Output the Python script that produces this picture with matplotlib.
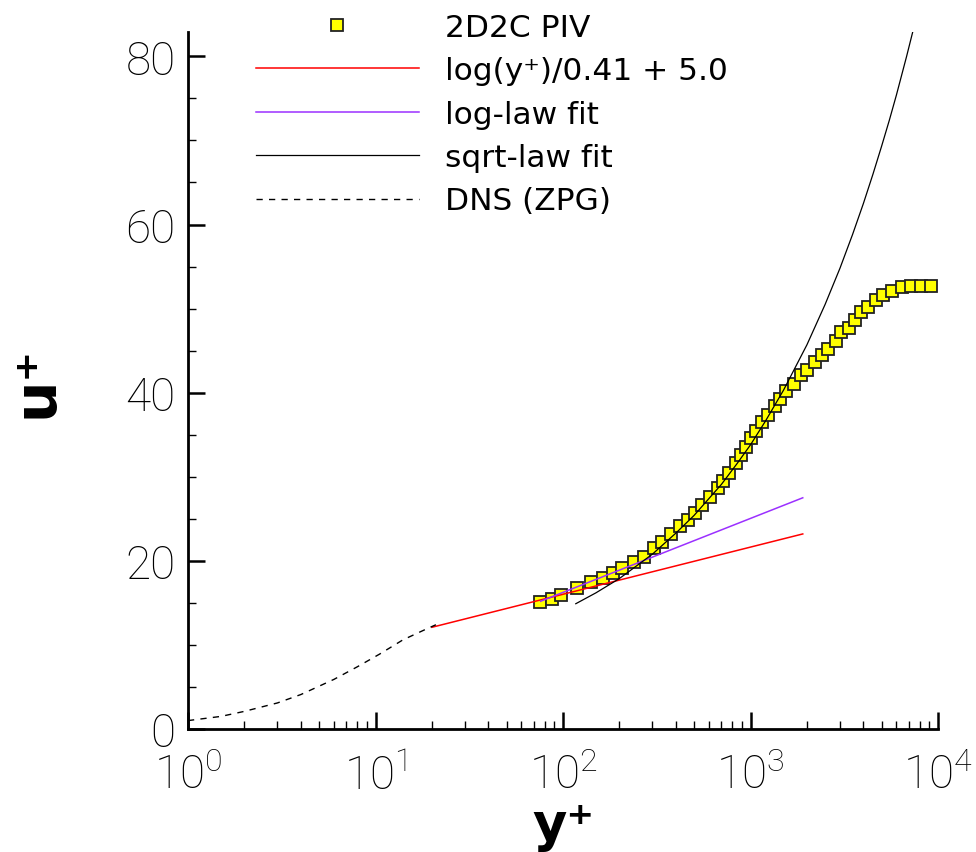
import matplotlib
matplotlib.use("Agg")
import matplotlib.pyplot as plt
from matplotlib.ticker import MultipleLocator, LogLocator, NullFormatter

# PIV data
piv_yplus = [75.5, 87.4, 97.6, 119, 141, 163, 184, 206, 239, 270,
             305, 336, 375, 419, 462, 504, 549, 605, 667, 710,
             764, 832, 885, 952, 1012, 1064, 1158, 1247, 1359, 1445,
             1554, 1714, 1867, 2010, 2216, 2416, 2600, 2866, 3048, 3363,
             3620, 3894, 4243, 4677, 5097, 5690, 6438, 7182, 8120, 9180]
piv_uplus = [15.1, 15.5, 15.9, 16.8, 17.5, 18.0, 18.5, 19.2, 19.9, 20.5,
             21.5, 22.3, 23.2, 24.1, 24.9, 25.7, 26.6, 27.6, 28.7, 29.5,
             30.5, 31.6, 32.6, 33.5, 34.6, 35.5, 36.5, 37.4, 38.4, 39.3,
             40.2, 41.0, 42.1, 42.7, 43.6, 44.5, 45.2, 46.1, 47.2, 47.7,
             48.6, 49.6, 50.2, 51.0, 51.6, 52.1, 52.6, 52.7, 52.7, 52.7]

# log(y+)/0.41 + 5.0
loglaw_yplus = [20, 1900]
loglaw_uplus = [12.1, 23.2]

# log-law fit
logfit_yplus = [76, 1900]
logfit_uplus = [15.2, 27.5]

# sqrt-law fit
sqrtfit_yplus = [117, 150, 200, 300, 400, 500, 700, 850, 1000, 1200, 1500, 2000,
                 2500, 3000, 3500, 4000, 4500, 5000, 5500, 6000, 6800, 7600]
sqrtfit_uplus = [14.9, 16.2, 17.9, 20.8, 23.3, 25.4, 29.1, 31.6, 33.8, 36.6, 40.3, 45.7,
                 50.5, 54.8, 58.8, 62.5, 66.0, 69.3, 72.4, 75.4, 80.0, 84.3]

# DNS (ZPG)
dns_yplus = [1.0, 1.5, 2.0, 3.0, 4.0, 6.0, 8.0, 10.5, 14.0, 18.7, 21.0]
dns_uplus = [1.0, 1.5, 2.1, 3.1, 4.1, 5.9, 7.4, 8.9, 10.6, 11.9, 12.4]

x_ticks = [1, 10, 100, 1000, 10000]
x_tick_labels = [r"$\mathdefault{10^{0}}$", r"$\mathdefault{10^{1}}$", r"$\mathdefault{10^{2}}$",
                 r"$\mathdefault{10^{3}}$", r"$\mathdefault{10^{4}}$"]
y_ticks = [0, 20, 40, 60, 80]
y_tick_labels = ["0", "20", "40", "60", "80"]

plt.rcParams["font.family"] = ["DejaVu Sans"]

fig = plt.figure(figsize=(9.76, 8.53), dpi=100)
ax = fig.add_axes([188 / 976, 1 - 730 / 853, 750 / 976, 697 / 853])

h_piv, = ax.plot(piv_yplus, piv_uplus, linestyle="none", marker="s", markersize=8.5,
                 markerfacecolor="#FFFF00", markeredgecolor="#222222", markeredgewidth=1.3,
                 zorder=2, label="2D2C PIV")
h_log, = ax.plot(loglaw_yplus, loglaw_uplus, color="#FF0000", lw=1.1, zorder=3,
                 label="log(y\u207a)/0.41 + 5.0")
h_fit, = ax.plot(logfit_yplus, logfit_uplus, color="#9B30FF", lw=1.1, zorder=3,
                 label="log-law fit")
h_sqrt, = ax.plot(sqrtfit_yplus, sqrtfit_uplus, color="black", lw=0.9, zorder=3,
                  label="sqrt-law fit")
h_dns, = ax.plot(dns_yplus, dns_uplus, color="black", lw=1.0, dashes=(4.5, 4.5), zorder=3,
                 label="DNS (ZPG)")

ax.set_xscale("log")
ax.set_xlim(1, 10000)
ax.set_ylim(0, 82.9)

ax.spines["top"].set_visible(False)
ax.spines["right"].set_visible(False)
ax.spines["left"].set_linewidth(2.0)
ax.spines["bottom"].set_linewidth(2.0)

ax.set_xticks(x_ticks, x_tick_labels, fontfamily="Roboto", fontweight="light", fontsize=33)
ax.xaxis.set_minor_locator(LogLocator(base=10, subs=range(2, 10), numticks=20))
ax.xaxis.set_minor_formatter(NullFormatter())
ax.set_yticks(y_ticks, y_tick_labels, fontfamily="Roboto", fontweight="light", fontsize=33)
ax.yaxis.set_minor_locator(MultipleLocator(5))

ax.tick_params(which="major", direction="in", length=12, width=1.8)
ax.tick_params(which="minor", direction="in", length=6, width=1.0)
ax.tick_params(axis="x", which="major", pad=17)
ax.tick_params(axis="y", which="major", pad=9)

ax.set_xlabel("y\u207a", fontsize=38, fontweight="bold")
ax.set_ylabel("u\u207a", fontsize=42, fontweight="bold")
ax.xaxis.set_label_coords(0.5, -0.101)
ax.yaxis.set_label_coords(-0.165, 0.5)

leg = ax.legend(handles=[h_piv, h_log, h_fit, h_sqrt, h_dns], loc="upper left",
                bbox_to_anchor=(256 / 976, 1 - 14 / 853), bbox_transform=fig.transFigure,
                frameon=False, fontsize=22.5, numpoints=1, handlelength=5.2,
                handletextpad=0.85, labelspacing=0.46, borderpad=0, borderaxespad=0)

fig.savefig("out.png", dpi=100)
